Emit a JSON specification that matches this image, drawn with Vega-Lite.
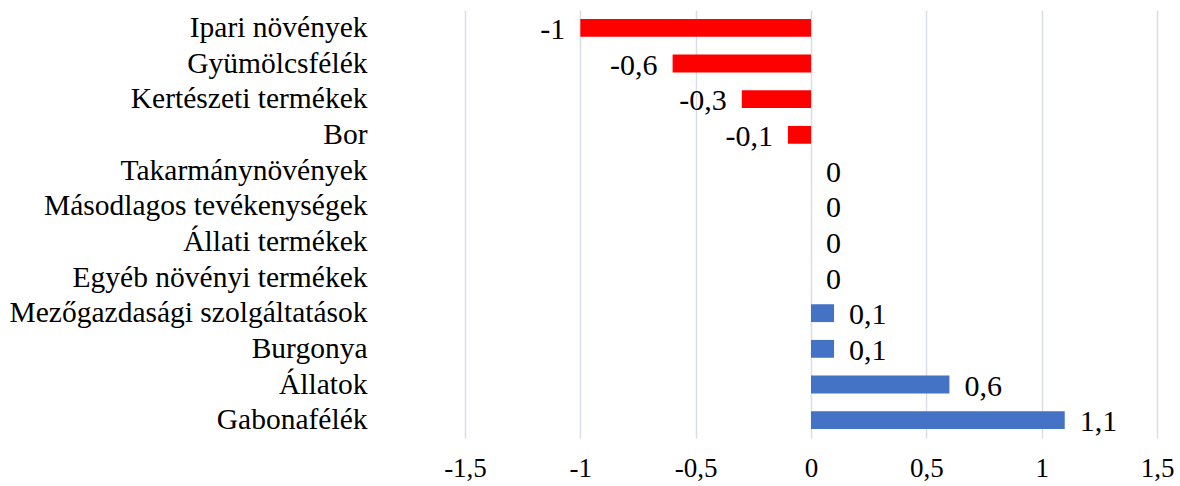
{
  "$schema": "https://vega.github.io/schema/vega-lite/v6.json",
  "width": 692,
  "height": 428,
  "autosize": {"type": "none"},
  "padding": {"left": 465, "top": 10, "right": 23, "bottom": 48},
  "background": "white",
  "config": {
    "view": {"stroke": null},
    "font": "Liberation Serif",
    "locale": {
      "number": {"decimal": ",", "thousands": " ", "grouping": [3], "currency": ["", ""], "minus": "-"}
    }
  },
  "data": {
    "values": [
      {"tetel": "Ipari növények", "v": -1},
      {"tetel": "Gyümölcsfélék", "v": -0.6},
      {"tetel": "Kertészeti termékek", "v": -0.3},
      {"tetel": "Bor", "v": -0.1},
      {"tetel": "Takarmánynövények", "v": 0},
      {"tetel": "Másodlagos tevékenységek", "v": 0},
      {"tetel": "Állati termékek", "v": 0},
      {"tetel": "Egyéb növényi termékek", "v": 0},
      {"tetel": "Mezőgazdasági szolgáltatások", "v": 0.1},
      {"tetel": "Burgonya", "v": 0.1},
      {"tetel": "Állatok", "v": 0.6},
      {"tetel": "Gabonafélék", "v": 1.1}
    ]
  },
  "encoding": {
    "y": {
      "field": "tetel",
      "type": "nominal",
      "sort": null,
      "title": null,
      "scale": {"paddingInner": 0.5, "paddingOuter": 0.25},
      "axis": {
        "domain": false,
        "ticks": false,
        "labelFont": "Liberation Serif",
        "labelFontSize": 29.5,
        "labelColor": "#000000",
        "labelPadding": 98,
        "labelLimit": 600
      }
    },
    "x": {
      "field": "v",
      "type": "quantitative",
      "title": null,
      "scale": {"domain": [-1.5, 1.5], "nice": false},
      "axis": {
        "values": [-1.5, -1, -0.5, 0, 0.5, 1, 1.5],
        "format": "~g",
        "domain": false,
        "ticks": false,
        "grid": true,
        "gridColor": "#d9dde6",
        "gridWidth": 1.5,
        "labelFlush": false,
        "labelFont": "Liberation Serif",
        "labelFontSize": 27,
        "labelColor": "#000000",
        "labelPadding": 17
      }
    }
  },
  "layer": [
    {
      "mark": {"type": "bar"},
      "encoding": {
        "color": {
          "condition": {"test": "datum.v < 0", "value": "#FF0000"},
          "value": "#4472C4"
        }
      }
    },
    {
      "transform": [{"filter": "datum.v < 0"}],
      "mark": {"type": "text", "fontSize": 30, "font": "Liberation Serif", "color": "#000000", "baseline": "middle", "align": "right", "dx": -15, "dy": 2},
      "encoding": {
        "text": {"field": "v", "type": "quantitative", "format": "~g"}
      }
    },
    {
      "transform": [{"filter": "datum.v >= 0"}],
      "mark": {"type": "text", "fontSize": 30, "font": "Liberation Serif", "color": "#000000", "baseline": "middle", "align": "left", "dx": 15, "dy": 2},
      "encoding": {
        "text": {"field": "v", "type": "quantitative", "format": "~g"}
      }
    }
  ]
}
